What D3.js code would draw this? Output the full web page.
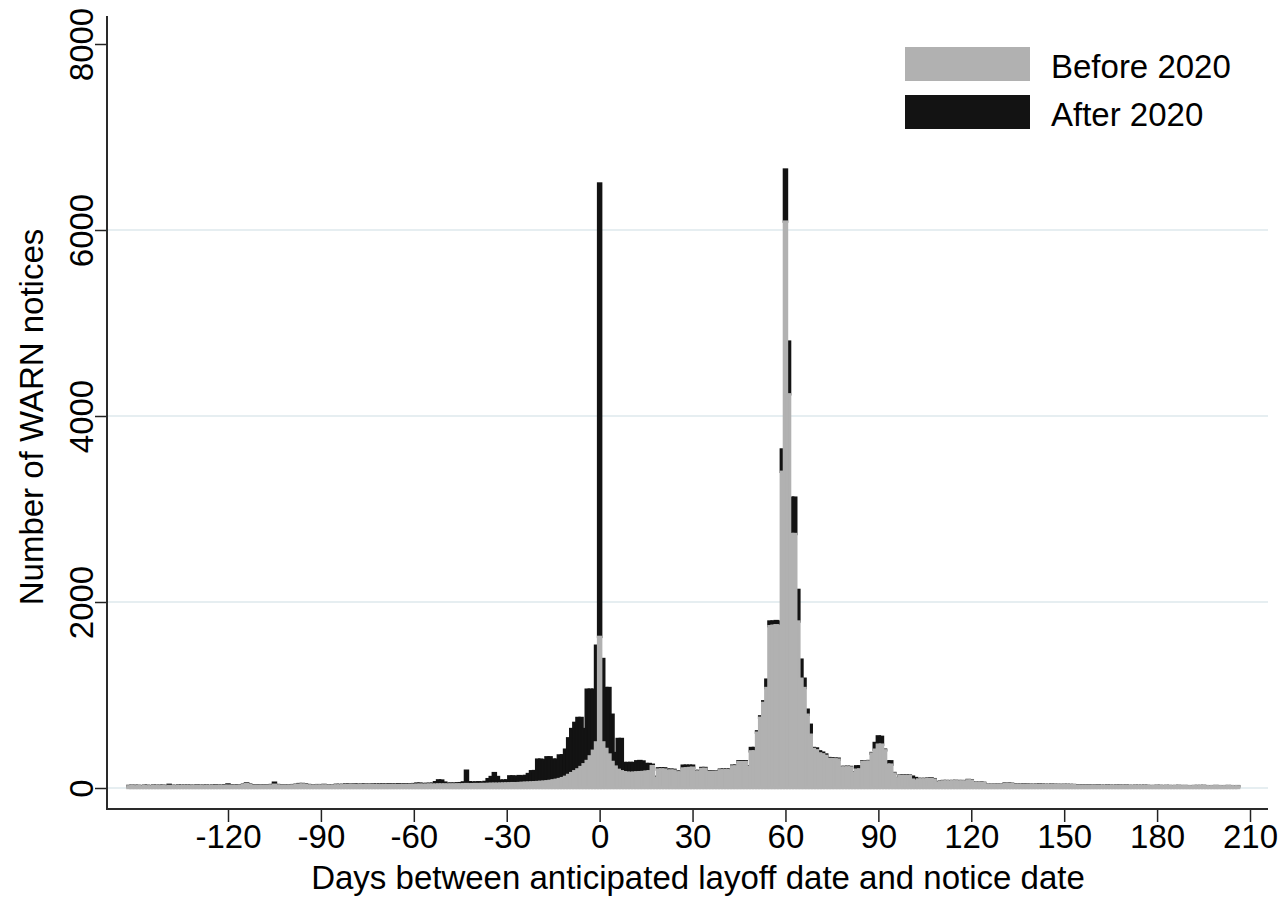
<!DOCTYPE html>
<html>
<head>
<meta charset="utf-8">
<script src="https://cdn.jsdelivr.net/npm/d3@7"></script>
<style>
  body { margin: 0; background: #fff; }
  text { font-family: "Liberation Sans", Arial, sans-serif; fill: #000; }
</style>
</head>
<body>
<svg id="chart" width="1279" height="918"></svg>
<script>
// first day of the histogram, one value per day after that
var firstDay = -152;

// notices before 2020 (grey bars), rows of 10 days starting at -152
var before2020 = [
  18,20,17,19,16,20,18,17,21,19,   // -152
  18,20,17,22,19,18,20,19,21,20,   // -142
  18,19,22,20,18,21,19,20,22,21,   // -132
  19,23,24,22,21,23,25,30,45,32,   // -122
  24,22,23,25,22,24,26,35,27,24,   // -112
  23,25,24,26,30,36,38,33,27,25,   // -102
  24,26,25,27,25,24,26,28,27,29,   // -92
  30,34,35,31,29,30,33,35,34,31,   // -82
  30,29,31,30,32,31,30,32,31,33,   // -72
  32,34,33,35,36,34,35,37,36,36,   // -62
  38,37,38,36,38,37,39,38,40,42,   // -52
  40,41,42,41,43,42,44,45,46,45,   // -42
  47,48,49,50,52,51,53,55,57,58,   // -32
  60,62,64,66,68,72,76,82,88,96,   // -22
  106,120,140,160,180,200,225,255,290,340,   // -12
  400,490,1625,490,420,360,280,230,195,180,  // -2
  170,165,162,165,168,170,172,176,180,235,   // 8
  110,198,200,198,185,188,186,168,168,210,   // 18
  212,215,218,175,176,205,206,172,172,173,   // 28
  174,190,190,191,190,232,232,278,278,278,   // 38
  225,394,394,595,755,915,1075,1740,1745,1750,   // 48
  1745,3400,6090,4233,2731,2731,1790,1175,1075,788, // 58
  573,420,405,372,362,345,312,310,308,305,   // 68
  220,220,222,220,164,197,200,280,282,283,   // 78
  370,412,466,466,405,251,251,155,104,128,   // 88
  128,128,128,90,79,92,92,92,95,98,          // 98
  90,56,64,71,71,70,72,72,70,71,             // 108
  69,82,80,58,57,58,52,37,36,37,             // 118
  35,36,37,47,45,42,34,33,31,32,             // 128
  33,32,30,31,33,32,31,30,32,31,             // 138
  30,29,31,30,29,30,24,23,22,23,             // 148
  22,21,22,23,21,20,22,21,20,21,             // 158
  22,20,21,20,19,21,20,19,21,20,             // 168
  18,19,20,19,18,20,19,18,19,20,             // 178
  18,19,18,17,19,18,19,20,18,17,             // 188
  18,19,18,17,18,19,18,17,18                 // 198
];

// notices after 2020 (black, stacked on the grey)
var after2020 = [
  4,3,5,4,3,4,5,3,4,3,
  5,4,3,12,4,3,5,4,3,4,
  5,3,4,3,5,4,3,4,5,3,
  4,5,14,4,3,5,4,5,6,4,
  5,3,4,5,4,3,6,22,5,4,
  3,5,4,5,4,6,5,4,5,4,
  3,5,4,6,4,5,4,6,5,4,
  6,5,4,6,5,4,6,5,4,6,
  5,7,6,5,7,6,5,8,6,7,
  8,6,9,12,11,8,9,8,10,26,
  44,43,20,9,10,9,11,14,20,144,
  22,17,18,21,15,23,51,73,114,73,
  33,32,33,75,73,69,75,70,73,92,
  120,120,241,239,230,258,254,223,217,254,
  246,292,394,474,520,553,528,379,767,717,
  657,1040,4875,897,655,715,508,146,332,347,
  99,103,108,103,119,120,113,82,78,15,
  10,13,11,13,12,9,9,7,7,30,
  28,25,22,8,7,10,9,7,7,6,
  5,7,7,6,7,8,8,9,9,9,
  8,36,36,14,15,17,90,50,45,45,
  45,240,560,567,391,391,340,205,100,54,
  107,10,20,22,18,15,10,8,7,10,
  6,6,6,6,4,36,33,7,5,7,
  6,72,89,84,7,36,36,6,3,5,
  5,5,5,32,28,5,5,5,5,6,
  5,4,4,4,4,4,3,4,4,4,
  4,4,4,4,3,3,3,3,3,3,
  3,3,3,3,3,3,3,2,3,4,
  3,2,3,3,4,3,2,3,3,2,
  3,3,2,3,3,2,3,2,3,2,
  3,2,2,3,2,2,3,2,2,3,
  2,2,3,2,2,2,2,3,2,2,
  2,2,2,3,2,2,2,2,2,2,
  2,2,2,2,2,3,2,2,2,2,
  2,2,2,2,2,2,2,2,2
];

var xTicks = [-120, -90, -60, -30, 0, 30, 60, 90, 120, 150, 180, 210];
var yTicks = [0, 2000, 4000, 6000, 8000];
var gridValues = [0, 2000, 4000, 6000];
var seriesNames = ["Before 2020", "After 2020"];
var seriesColors = ["#b1b1b1", "#131313"];

var rows = before2020.map(function(b, i) {
  return { day: firstDay + i, before: b, after: after2020[i] };
});
var layers = d3.stack().keys(["before", "after"])(rows);

var svg = d3.select("#chart");
var x = d3.scaleLinear().domain([-120, 210]).range([228, 1250]);
var y = d3.scaleLinear().domain([0, 8000]).range([788, 44]);
var axisLeftX = 107, axisBottomY = 809, plotRight = 1268;
var plain = function(d) { return String(d); };

// grid
svg.append("g").selectAll("line")
  .data(gridValues).enter()
  .append("line")
  .attr("x1", axisLeftX).attr("x2", plotRight)
  .attr("y1", function(d) { return y(d); })
  .attr("y2", function(d) { return y(d); })
  .style("stroke", "#e6eef1")
  .style("stroke-width", 2);

// bars: black layer first, grey over it; thick outlines like the original
var barW = x(1) - x(0);
[1, 0].forEach(function(k) {
  svg.append("g").selectAll("rect")
    .data(layers[k]).enter()
    .append("rect")
    .attr("x", function(d) { return x(d.data.day) - barW / 2; })
    .attr("width", barW)
    .attr("y", function(d) { return y(d[1]); })
    .attr("height", function(d) { return Math.max(0, y(d[0]) - y(d[1])); })
    .style("fill", seriesColors[k])
    .style("stroke", seriesColors[k])
    .style("stroke-width", 2.4);
});

// x axis
var xAxis = svg.append("g")
  .attr("transform", "translate(0," + axisBottomY + ")")
  .call(d3.axisBottom(x).tickValues(xTicks).tickFormat(plain)
    .tickSize(13).tickSizeOuter(0).tickPadding(3));
xAxis.select(".domain").remove();
xAxis.selectAll("line").style("stroke", "#222").style("stroke-width", 1.5);
xAxis.selectAll("text").style("font-size", "33px").style("font-family", "'Liberation Sans', Arial, sans-serif");
svg.append("line")
  .attr("x1", axisLeftX - 1).attr("x2", plotRight)
  .attr("y1", axisBottomY).attr("y2", axisBottomY)
  .style("stroke", "#2a2a2a").style("stroke-width", 2);

// y axis
var yAxis = svg.append("g")
  .attr("transform", "translate(" + axisLeftX + ",0)")
  .call(d3.axisLeft(y).tickValues(yTicks).tickFormat(plain).tickSize(12).tickSizeOuter(0));
yAxis.select(".domain").remove();
yAxis.selectAll("line").style("stroke", "#222").style("stroke-width", 1.5);
yAxis.selectAll("text")
  .attr("transform", "rotate(-90)")
  .attr("x", 0).attr("y", -14).attr("dy", 0)
  .attr("text-anchor", "middle")
  .style("font-size", "33px")
  .style("font-family", "'Liberation Sans', Arial, sans-serif");
svg.append("line")
  .attr("x1", axisLeftX).attr("x2", axisLeftX)
  .attr("y1", 16).attr("y2", axisBottomY + 1)
  .style("stroke", "#2a2a2a").style("stroke-width", 2);

// titles
svg.append("text")
  .attr("x", 698).attr("y", 889)
  .attr("text-anchor", "middle")
  .style("font-size", "33px")
  .text("Days between anticipated layoff date and notice date");
svg.append("text")
  .attr("transform", "translate(43,417) rotate(-90)")
  .attr("text-anchor", "middle")
  .style("font-size", "33px")
  .text("Number of WARN notices");

// legend
var legend = svg.append("g").selectAll("g")
  .data(seriesNames).enter()
  .append("g")
  .attr("transform", function(d, i) { return "translate(905," + (47 + i * 48) + ")"; });
legend.append("rect")
  .attr("width", 125).attr("height", 34)
  .style("fill", function(d, i) { return seriesColors[i]; });
legend.append("text")
  .attr("x", 146).attr("y", 31)
  .style("font-size", "33px")
  .text(function(d) { return d; });
</script>
</body>
</html>
